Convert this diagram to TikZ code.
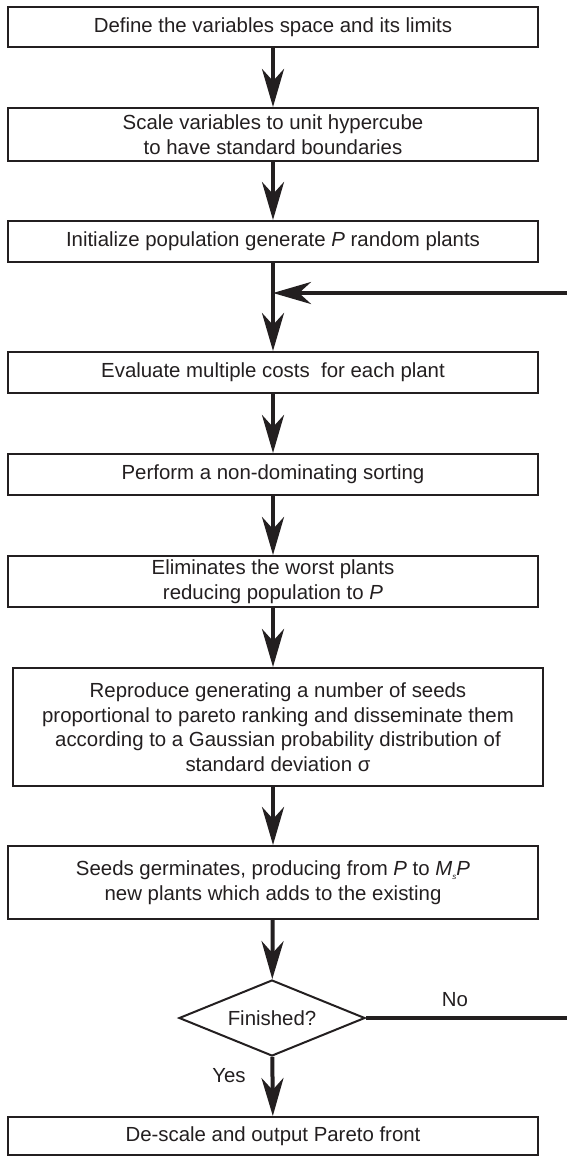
\documentclass[tikz,border=0pt]{standalone}
\usepackage{fontspec}
\setmainfont{Liberation Sans}
\usetikzlibrary{arrows.meta,shapes.geometric}
\definecolor{ink}{HTML}{231F20}

\begin{document}
\begin{tikzpicture}[x=0.5pt,y=-0.5pt,
  every node/.style={font=\fontsize{10.2pt}{12.3pt}\selectfont, text=ink},
  stage/.style={draw=ink, line width=1pt, fill=white, minimum width=265pt, align=center, inner sep=0pt},
  test/.style={draw=ink, line width=1pt, diamond, aspect=2.45, minimum width=93pt, minimum height=38pt, inner sep=0pt},
  flow/.style={draw=ink, line width=2pt, -{Stealth[length=19pt,width=11pt,inset=6pt]}},
  plain/.style={draw=ink, line width=2pt}]
\useasboundingbox (0,0) rectangle (567,1157);
\node[stage, minimum height=20pt] (define) at (273,27) {Define the variables space and its limits};
\node[stage, minimum height=26.5pt] (scale) at (273,134.5) {Scale variables to unit hypercube\\to have standard boundaries};
\node[stage, minimum height=20.5pt] (init) at (273,241.5) {Initialize population generate \textit{P} random plants};
\node[stage, minimum height=20.5pt] (evaluate) at (273,372.5) {Evaluate multiple costs~ for each plant};
\node[stage, minimum height=20.5pt] (sort) at (273,474.5) {Perform a non-dominating sorting};
\node[stage, minimum height=25.5pt] (eliminate) at (273,581.5) {Eliminates the worst plants\\reducing population to \textit{P}};
\node[stage, minimum height=59pt] (reproduce) at (278,727) {Reproduce generating a number of seeds\\proportional to pareto ranking and disseminate them\\according to a Gaussian probability distribution of\\standard deviation σ};
\node[stage, minimum height=36.5pt] (germinate) at (273,882.5) {Seeds germinates, producing from \textit{P} to \textit{M}\raisebox{-0.4ex}{\fontsize{4pt}{4pt}\selectfont\textit{s}}\textit{P}\\new plants which adds to the existing};
\node[test] (finished) at (272,1018) {Finished?};
\node[stage, minimum height=19pt] (output) at (273,1136) {De-scale and output Pareto front};
\coordinate (loopin) at (567,293);
\coordinate (noout) at (567,1018);
\node (yes) at (229,1076) {Yes};
\node (no) at (455,1000) {No};
\draw[flow] (define) -- (scale);
\draw[flow] (scale) -- (init);
\draw[flow] (init) -- (evaluate);
\draw[flow] (loopin) -- (init.south |- loopin);
\draw[flow] (evaluate) -- (sort);
\draw[flow] (sort) -- (eliminate);
\draw[flow] (eliminate) -- (eliminate.south |- reproduce.north);
\draw[flow] (reproduce.south -| germinate) -- (germinate);
\draw[flow] (germinate) -- (finished);
\draw[flow] (finished) -- (output);
\draw[plain] (finished.east) -- (noout);
\end{tikzpicture}
\end{document}
